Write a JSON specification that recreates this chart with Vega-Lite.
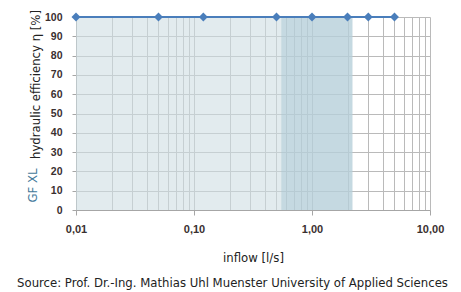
{
  "$schema": "https://vega.github.io/schema/vega-lite/v6.json",
  "width": 354,
  "height": 193,
  "autosize": "none",
  "padding": {"left": 76, "top": 17, "right": 31, "bottom": 82},
  "background": "white",
  "config": {"view": {"stroke": null}},
  "datasets": {
    "shade": [
      {"from": 0.01, "to": 2.2, "lo": 0, "hi": 100, "level": "light"},
      {"from": 0.55, "to": 2.2, "lo": 0, "hi": 100, "level": "dark"}
    ],
    "series": [
      {"q": 0.01, "eta": 100},
      {"q": 0.05, "eta": 100},
      {"q": 0.12, "eta": 100},
      {"q": 0.5, "eta": 100},
      {"q": 1.0, "eta": 100},
      {"q": 2.0, "eta": 100},
      {"q": 3.0, "eta": 100},
      {"q": 5.0, "eta": 100}
    ]
  },
  "layer": [
    {
      "data": {"name": "shade"},
      "mark": {"type": "rect"},
      "encoding": {
        "x": {
          "field": "from", "type": "quantitative",
          "scale": {"type": "log", "domain": [0.01, 10], "nice": false},
          "axis": {
            "values": [0.01,0.02,0.03,0.04,0.05,0.06,0.07,0.08,0.09,0.1,0.2,0.3,0.4,0.5,0.6,0.7,0.8,0.9,1,2,3,4,5,6,7,8,9,10],
            "labelExpr": "abs(log(datum.value)/LN10 - round(log(datum.value)/LN10)) < 0.000001 ? replace(format(datum.value, '.2f'), '.', ',') : ''",
            "tickOpacity": {"condition": {"test": "abs(log(datum.value)/LN10 - round(log(datum.value)/LN10)) < 0.000001", "value": 1}, "value": 0},
            "tickSize": 5,
            "tickColor": "#a6a6a6",
            "domainColor": "#a6a6a6",
            "gridColor": "#bababa",
            "gridOpacity": 1,
            "labelFont": "Liberation Sans",
            "labelFontWeight": "bold",
            "labelFontSize": 11,
            "labelColor": "#3a3030",
            "labelPadding": 8,
            "labelFlush": false,
            "labelOverlap": false,
            "title": "inflow [l/s]",
            "titleFont": "DejaVu Sans Condensed, sans-serif",
            "titleFontWeight": "normal",
            "titleFontSize": 13,
            "titleColor": "#222222",
            "titleX": 177,
            "titleY": 47,
            "titleBaseline": "middle"
          }
        },
        "x2": {"field": "to"},
        "y": {
          "field": "lo", "type": "quantitative",
          "scale": {"domain": [0, 100], "nice": false},
          "axis": {
            "values": [0,10,20,30,40,50,60,70,80,90,100],
            "tickSize": 4,
            "tickColor": "#a6a6a6",
            "domainColor": "#a6a6a6",
            "gridColor": "#bababa",
            "gridOpacity": 1,
            "labelFont": "Liberation Sans",
            "labelFontWeight": "bold",
            "labelFontSize": 10.5,
            "labelColor": "#3a3030",
            "labelPadding": 10,
            "title": "hydraulic efficiency η [%]",
            "titleFont": "DejaVu Sans Condensed, sans-serif",
            "titleFontWeight": "normal",
            "titleFontSize": 13,
            "titleColor": "#222222",
            "titleX": -41,
            "titleY": 67,
            "titleBaseline": "middle"
          }
        },
        "y2": {"field": "hi"},
        "color": {"field": "level", "type": "nominal", "scale": {"domain": ["light", "dark"], "range": ["#cfdde2", "#a8c8d3"]}, "legend": null},
        "opacity": {"field": "level", "type": "nominal", "scale": {"domain": ["light", "dark"], "range": [0.6, 0.5]}, "legend": null}
      }
    },
    {
      "data": {"name": "series"},
      "encoding": {
        "x": {
          "field": "q", "type": "quantitative",
          "scale": {"type": "log", "domain": [0.01, 10], "nice": false},
          "axis": {
            "orient": "bottom",
            "labels": false, "ticks": false, "domain": false, "grid": false,
            "title": "Source: Prof. Dr.-Ing. Mathias Uhl Muenster University of Applied Sciences",
            "titleFont": "DejaVu Sans Condensed, sans-serif",
            "titleFontWeight": "normal",
            "titleFontSize": 13,
            "titleColor": "#222222",
            "titleX": 156,
            "titleY": 72,
            "titleBaseline": "middle"
          }
        },
        "y": {
          "field": "eta", "type": "quantitative",
          "scale": {"domain": [0, 100], "nice": false},
          "axis": {
            "orient": "left",
            "labels": false, "ticks": false, "domain": false, "grid": false,
            "title": "GF XL",
            "titleFont": "DejaVu Sans Condensed, sans-serif",
            "titleFontWeight": "normal",
            "titleFontSize": 13,
            "titleColor": "#43799a",
            "titleX": -44,
            "titleY": 168,
            "titleBaseline": "middle"
          }
        }
      },
      "layer": [
        {"mark": {"type": "line", "color": "#4a7ebb", "strokeWidth": 2, "clip": false}},
        {"mark": {"type": "point", "shape": "diamond", "filled": true, "size": 80, "color": "#4a7ebb", "opacity": 1, "clip": false}}
      ]
    }
  ],
  "resolve": {"axis": {"x": "independent", "y": "independent"}}
}
